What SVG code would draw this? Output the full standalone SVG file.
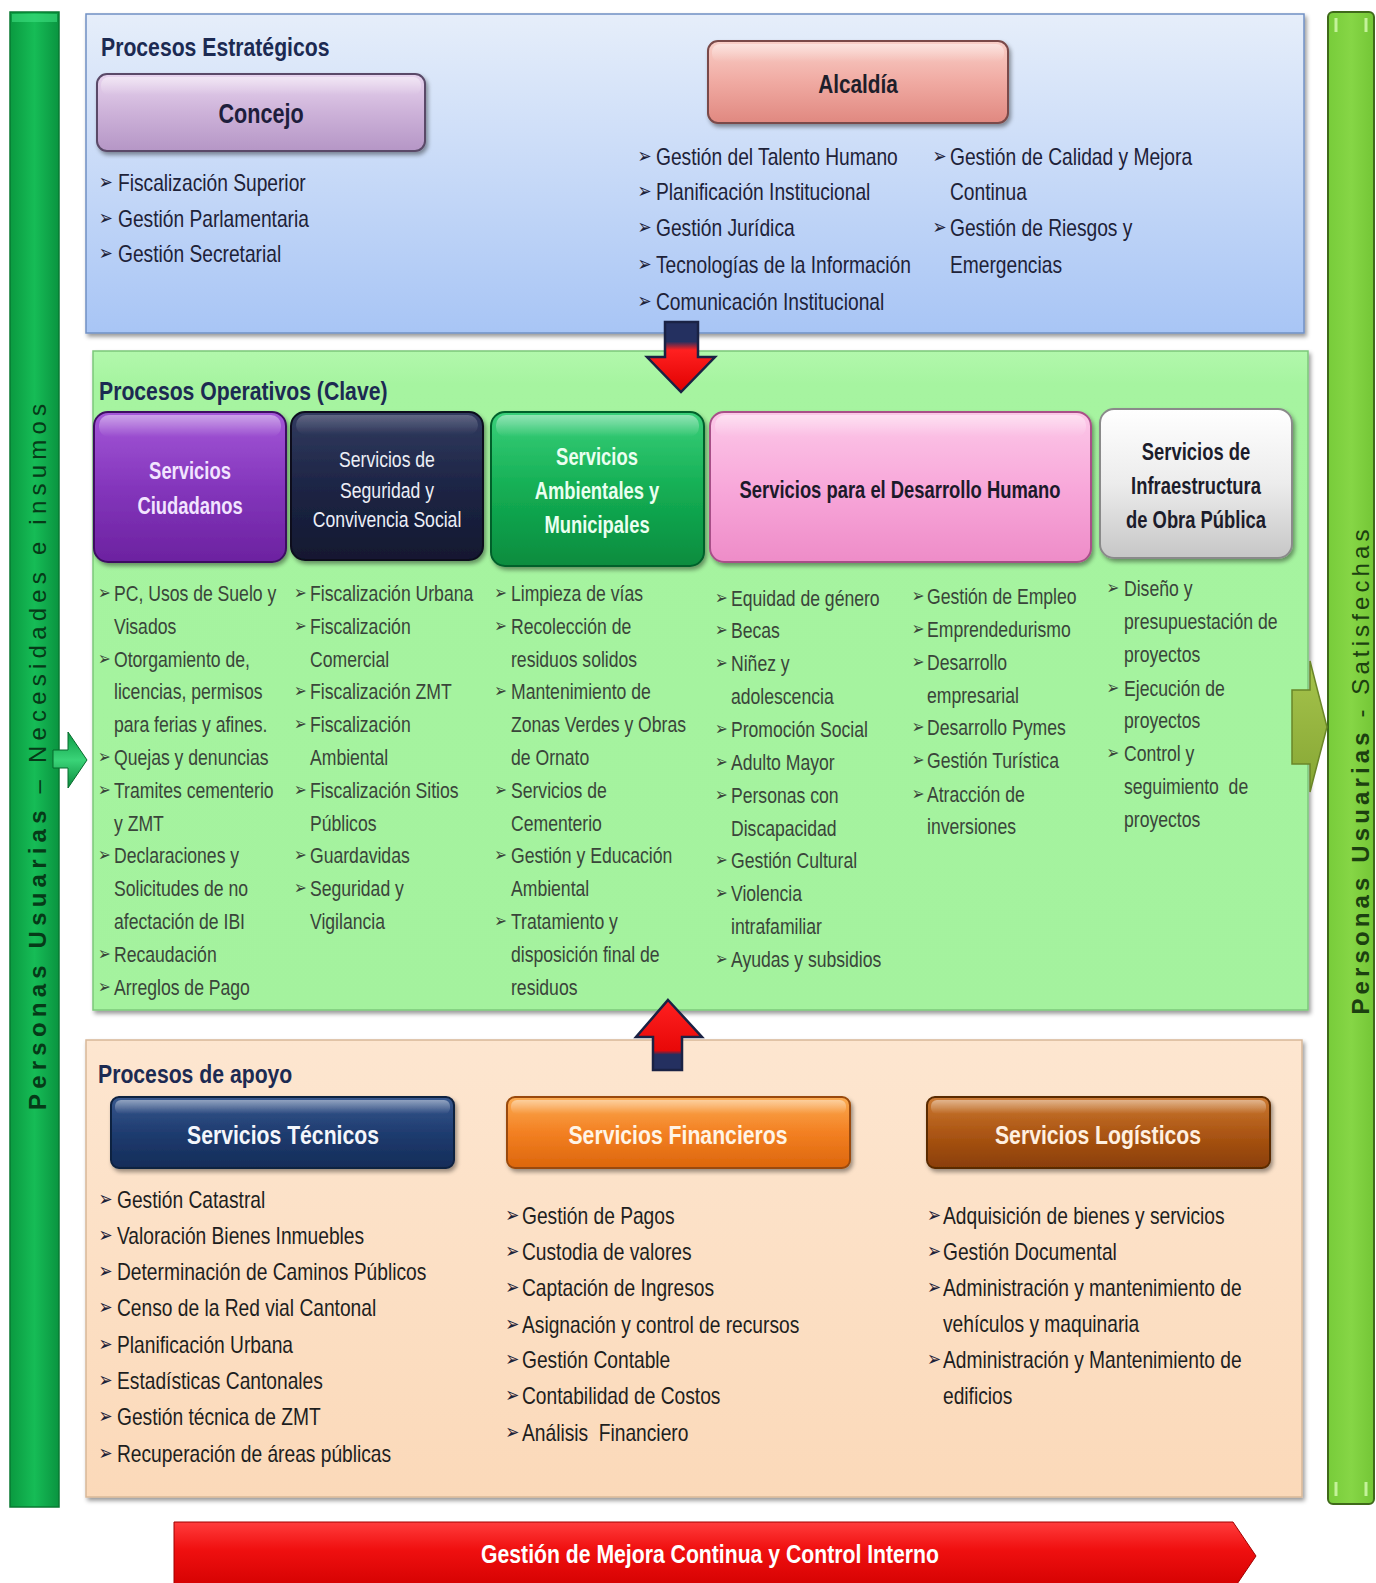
<svg xmlns="http://www.w3.org/2000/svg" width="1376" height="1583" viewBox="0 0 1376 1583">
<defs>
<filter id="sh" x="-5%" y="-5%" width="112%" height="115%"><feDropShadow dx="2" dy="3" stdDeviation="2" flood-color="#000" flood-opacity="0.4"/></filter>
<linearGradient id="gBlue" x1="0" y1="0" x2="0" y2="1"><stop offset="0" stop-color="#e6eefa"/><stop offset="1" stop-color="#a8c5f5"/></linearGradient>
<linearGradient id="gGreenP" x1="0" y1="0" x2="0" y2="1"><stop offset="0" stop-color="#b2f8ac"/><stop offset="0.05" stop-color="#a6f4a0"/><stop offset="1" stop-color="#a4f29e"/></linearGradient>
<linearGradient id="gPeach" x1="0" y1="0" x2="0" y2="1"><stop offset="0" stop-color="#fde6d0"/><stop offset="1" stop-color="#fbd9b9"/></linearGradient>
<linearGradient id="gConcejo" x1="0" y1="0" x2="0" y2="1"><stop offset="0" stop-color="#e8d4ee"/><stop offset="0.5" stop-color="#cdb2d9"/><stop offset="1" stop-color="#b596c6"/></linearGradient>
<linearGradient id="gAlc" x1="0" y1="0" x2="0" y2="1"><stop offset="0" stop-color="#f9cfc8"/><stop offset="0.5" stop-color="#f0aaa2"/><stop offset="1" stop-color="#e08880"/></linearGradient>
<linearGradient id="gPurple" x1="0" y1="0" x2="0" y2="1"><stop offset="0" stop-color="#a458d8"/><stop offset="0.5" stop-color="#8436bc"/><stop offset="1" stop-color="#6c22a0"/></linearGradient>
<linearGradient id="gNavy" x1="0" y1="0" x2="0" y2="1"><stop offset="0" stop-color="#323b60"/><stop offset="0.5" stop-color="#1d2545"/><stop offset="1" stop-color="#121830"/></linearGradient>
<linearGradient id="gGreenB" x1="0" y1="0" x2="0" y2="1"><stop offset="0" stop-color="#3ad07a"/><stop offset="0.5" stop-color="#14ae54"/><stop offset="1" stop-color="#088c3e"/></linearGradient>
<linearGradient id="gPink" x1="0" y1="0" x2="0" y2="1"><stop offset="0" stop-color="#fcc8e8"/><stop offset="0.5" stop-color="#f8a8da"/><stop offset="1" stop-color="#ee8cc8"/></linearGradient>
<linearGradient id="gGray" x1="0" y1="0" x2="0" y2="1"><stop offset="0" stop-color="#ffffff"/><stop offset="0.5" stop-color="#ececec"/><stop offset="1" stop-color="#c6c6c6"/></linearGradient>
<linearGradient id="gTec" x1="0" y1="0" x2="0" y2="1"><stop offset="0" stop-color="#38588e"/><stop offset="0.5" stop-color="#1f3c70"/><stop offset="1" stop-color="#142c58"/></linearGradient>
<linearGradient id="gFin" x1="0" y1="0" x2="0" y2="1"><stop offset="0" stop-color="#fbab52"/><stop offset="0.5" stop-color="#f38022"/><stop offset="1" stop-color="#dc660c"/></linearGradient>
<linearGradient id="gLog" x1="0" y1="0" x2="0" y2="1"><stop offset="0" stop-color="#cc7a32"/><stop offset="0.5" stop-color="#ac5614"/><stop offset="1" stop-color="#8a3e06"/></linearGradient>
<linearGradient id="gBanner" x1="0" y1="0" x2="0" y2="1"><stop offset="0" stop-color="#ff3c3c"/><stop offset="0.4" stop-color="#f01010"/><stop offset="1" stop-color="#d20000"/></linearGradient>
<linearGradient id="gLeft" x1="0" y1="0" x2="1" y2="0"><stop offset="0" stop-color="#0a9a40"/><stop offset="0.5" stop-color="#16bc56"/><stop offset="1" stop-color="#0a9440"/></linearGradient>
<linearGradient id="gRight" x1="0" y1="0" x2="1" y2="0"><stop offset="0" stop-color="#78cc3a"/><stop offset="0.5" stop-color="#86d646"/><stop offset="1" stop-color="#74c636"/></linearGradient>
<linearGradient id="gDown" x1="0" y1="0" x2="0" y2="1"><stop offset="0" stop-color="#243060"/><stop offset="0.28" stop-color="#243060"/><stop offset="0.4" stop-color="#ff2020"/><stop offset="1" stop-color="#e00000"/></linearGradient>
<linearGradient id="gUp" x1="0" y1="0" x2="0" y2="1"><stop offset="0" stop-color="#ff2020"/><stop offset="0.72" stop-color="#e80808"/><stop offset="0.78" stop-color="#243060"/><stop offset="1" stop-color="#243060"/></linearGradient>
<linearGradient id="gGArrow" x1="0" y1="0" x2="0" y2="1"><stop offset="0" stop-color="#0c9a44"/><stop offset="0.5" stop-color="#3ad478"/><stop offset="1" stop-color="#0a8a3c"/></linearGradient>
<linearGradient id="gOlive" x1="0" y1="0" x2="0" y2="1"><stop offset="0" stop-color="#a6c44c"/><stop offset="1" stop-color="#86a634"/></linearGradient>
<linearGradient id="gloss" x1="0" y1="0" x2="0" y2="1"><stop offset="0" stop-color="#fff" stop-opacity="0.45"/><stop offset="1" stop-color="#fff" stop-opacity="0"/></linearGradient>
<style>
text{font-family:'Liberation Sans',Arial,sans-serif}
.h{font-weight:bold;font-size:26.5px;fill:#1c2a52}
.bx{font-weight:bold;font-size:23px;text-anchor:middle}
.bt{font-size:24px;fill:#1e2238}
.bg{font-size:22px;fill:#3a453a}
.ba{font-size:24px;fill:#1e1e1e}
.ar{font-family:'DejaVu Sans',sans-serif;font-size:21px;fill:#1e2238}
.ag{font-family:'DejaVu Sans',sans-serif;font-size:19px;fill:#3a453a}
.panel{filter:url(#sh)}
</style>
</defs>

<rect width="1376" height="1583" fill="#ffffff"/>

<!-- Side bars -->
<g id="bar-left">
<rect x="10" y="12" width="49" height="1495" fill="url(#gLeft)" stroke="#087a32" stroke-width="1.5"/>
<rect x="12" y="14" width="45" height="8" fill="#3ee080" opacity="0.6"/>
<text transform="translate(46,757) rotate(-90)" text-anchor="middle" textLength="706" lengthAdjust="spacing" style="font-size:24px;fill:#063a18"><tspan font-weight="bold">Personas Usuarias</tspan> – Necesidades e insumos</text>
</g>
<g id="bar-right">
<rect x="1328" y="12" width="46" height="1492" rx="5" fill="url(#gRight)" stroke="#3f6a1a" stroke-width="2"/>
<line x1="1336" y1="18" x2="1336" y2="32" stroke="#c4f29a" stroke-width="3"/>
<line x1="1366" y1="18" x2="1366" y2="32" stroke="#c4f29a" stroke-width="3"/>
<line x1="1336" y1="1482" x2="1336" y2="1496" stroke="#c4f29a" stroke-width="3"/>
<line x1="1366" y1="1482" x2="1366" y2="1496" stroke="#c4f29a" stroke-width="3"/>
<text transform="translate(1369,772) rotate(-90)" text-anchor="middle" textLength="485" lengthAdjust="spacing" style="font-size:24px;fill:#1c4010"><tspan font-weight="bold">Personas Usuarias</tspan> - Satisfechas</text>
</g>

<!-- Strategic panel -->
<g id="panel-estrategicos">
<rect class="panel" x="86" y="14" width="1218" height="319" fill="url(#gBlue)" stroke="#7090c4" stroke-width="1.5"/>
<g transform="translate(101,0) scale(0.8,1)"><text class="h" x="0" y="56">Procesos Estratégicos</text></g>
</g>
<g id="node-concejo">
<rect class="panel" x="97" y="74" width="328" height="77" rx="10" fill="url(#gConcejo)" stroke="#5a4a68" stroke-width="2"/>
<rect x="101" y="77" width="320" height="18" rx="8" fill="url(#gloss)"/>
<g transform="translate(261,0) scale(0.8,1)"><text class="bx" x="0" y="123" style="font-size:27px;fill:#1e1e3c">Concejo</text></g>
<g transform="translate(118,0) scale(0.8,1)">
<text class="ar" x="-24" y="189">➢</text><text class="bt" x="0" y="191">Fiscalización Superior</text>
<text class="ar" x="-24" y="225">➢</text><text class="bt" x="0" y="227">Gestión Parlamentaria</text>
<text class="ar" x="-24" y="260">➢</text><text class="bt" x="0" y="262">Gestión Secretarial</text>
</g>
</g>
<g id="node-alcaldia">
<rect class="panel" x="708" y="41" width="300" height="82" rx="10" fill="url(#gAlc)" stroke="#7a4a48" stroke-width="2"/>
<rect x="712" y="44" width="292" height="18" rx="8" fill="url(#gloss)"/>
<g transform="translate(858,0) scale(0.8,1)"><text class="bx" x="0" y="93" style="font-size:26px;fill:#1e1e2a">Alcaldía</text></g>
<g transform="translate(656,0) scale(0.8,1)">
<text class="ar" x="-23" y="163">➢</text><text class="bt" x="0" y="165">Gestión del Talento Humano</text>
<text class="ar" x="-23" y="198">➢</text><text class="bt" x="0" y="200">Planificación Institucional</text>
<text class="ar" x="-23" y="234">➢</text><text class="bt" x="0" y="236">Gestión Jurídica</text>
<text class="ar" x="-23" y="271">➢</text><text class="bt" x="0" y="273">Tecnologías de la Información</text>
<text class="ar" x="-23" y="308">➢</text><text class="bt" x="0" y="310">Comunicación Institucional</text>
</g>
<g transform="translate(950,0) scale(0.8,1)">
<text class="ar" x="-22" y="163">➢</text><text class="bt" x="0" y="165">Gestión de Calidad y Mejora</text>
<text class="bt" x="0" y="200">Continua</text>
<text class="ar" x="-22" y="234">➢</text><text class="bt" x="0" y="236">Gestión de Riesgos y</text>
<text class="bt" x="0" y="273">Emergencias</text>
</g>
</g>

<!-- Operative panel -->
<g id="panel-operativos">
<rect class="panel" x="93" y="351" width="1215" height="659" fill="url(#gGreenP)" stroke="#7cc87a" stroke-width="1.5"/>
<g transform="translate(99,0) scale(0.8,1)"><text class="h" x="0" y="400">Procesos Operativos (Clave)</text></g>
</g>
<g id="node-ciudadanos">
<rect class="panel" x="94" y="412" width="192" height="150" rx="14" fill="url(#gPurple)" stroke="#3c1062" stroke-width="2"/>
<rect x="99" y="415" width="182" height="22" rx="10" fill="url(#gloss)"/>
<g transform="translate(190,0) scale(0.8,1)">
<text class="bx" x="0" y="479" style="fill:#f2e4ff">Servicios</text>
<text class="bx" x="0" y="514" style="fill:#f2e4ff">Ciudadanos</text>
</g>
<g transform="translate(114,0) scale(0.8,1)">
<text class="ag" x="-20" y="599">➢</text><text class="bg" x="0" y="601">PC, Usos de Suelo y</text>
<text class="bg" x="0" y="634">Visados</text>
<text class="ag" x="-20" y="665">➢</text><text class="bg" x="0" y="667">Otorgamiento de,</text>
<text class="bg" x="0" y="699">licencias, permisos</text>
<text class="bg" x="0" y="732">para ferias y afines.</text>
<text class="ag" x="-20" y="763">➢</text><text class="bg" x="0" y="765">Quejas y denuncias</text>
<text class="ag" x="-20" y="796">➢</text><text class="bg" x="0" y="798">Tramites cementerio</text>
<text class="bg" x="0" y="831">y ZMT</text>
<text class="ag" x="-20" y="861">➢</text><text class="bg" x="0" y="863">Declaraciones y</text>
<text class="bg" x="0" y="896">Solicitudes de no</text>
<text class="bg" x="0" y="929">afectación de IBI</text>
<text class="ag" x="-20" y="960">➢</text><text class="bg" x="0" y="962">Recaudación</text>
<text class="ag" x="-20" y="993">➢</text><text class="bg" x="0" y="995">Arreglos de Pago</text>
</g>
</g>
<g id="node-seguridad">
<rect class="panel" x="291" y="412" width="192" height="148" rx="14" fill="url(#gNavy)" stroke="#0a0e1e" stroke-width="2"/>
<rect x="296" y="415" width="182" height="20" rx="10" fill="url(#gloss)" opacity="0.5"/>
<g transform="translate(387,0) scale(0.8,1)">
<text class="bx" x="0" y="467" style="font-weight:normal;font-size:22px;fill:#eceef6">Servicios de</text>
<text class="bx" x="0" y="498" style="font-weight:normal;font-size:22px;fill:#eceef6">Seguridad y</text>
<text class="bx" x="0" y="527" style="font-weight:normal;font-size:22px;fill:#eceef6">Convivencia Social</text>
</g>
<g transform="translate(310,0) scale(0.8,1)">
<text class="ag" x="-20" y="599">➢</text><text class="bg" x="0" y="601">Fiscalización Urbana</text>
<text class="ag" x="-20" y="632">➢</text><text class="bg" x="0" y="634">Fiscalización</text>
<text class="bg" x="0" y="667">Comercial</text>
<text class="ag" x="-20" y="697">➢</text><text class="bg" x="0" y="699">Fiscalización ZMT</text>
<text class="ag" x="-20" y="730">➢</text><text class="bg" x="0" y="732">Fiscalización</text>
<text class="bg" x="0" y="765">Ambiental</text>
<text class="ag" x="-20" y="796">➢</text><text class="bg" x="0" y="798">Fiscalización Sitios</text>
<text class="bg" x="0" y="831">Públicos</text>
<text class="ag" x="-20" y="861">➢</text><text class="bg" x="0" y="863">Guardavidas</text>
<text class="ag" x="-20" y="894">➢</text><text class="bg" x="0" y="896">Seguridad y</text>
<text class="bg" x="0" y="929">Vigilancia</text>
</g>
</g>
<g id="node-ambientales">
<rect class="panel" x="491" y="412" width="213" height="154" rx="14" fill="url(#gGreenB)" stroke="#06602c" stroke-width="2"/>
<rect x="496" y="415" width="203" height="22" rx="10" fill="url(#gloss)"/>
<g transform="translate(597,0) scale(0.8,1)">
<text class="bx" x="0" y="465" style="fill:#eafff0">Servicios</text>
<text class="bx" x="0" y="499" style="fill:#eafff0">Ambientales y</text>
<text class="bx" x="0" y="533" style="fill:#eafff0">Municipales</text>
</g>
<g transform="translate(511,0) scale(0.8,1)">
<text class="ag" x="-21" y="599">➢</text><text class="bg" x="0" y="601">Limpieza de vías</text>
<text class="ag" x="-21" y="632">➢</text><text class="bg" x="0" y="634">Recolección de</text>
<text class="bg" x="0" y="667">residuos solidos</text>
<text class="ag" x="-21" y="697">➢</text><text class="bg" x="0" y="699">Mantenimiento de</text>
<text class="bg" x="0" y="732">Zonas Verdes y Obras</text>
<text class="bg" x="0" y="765">de Ornato</text>
<text class="ag" x="-21" y="796">➢</text><text class="bg" x="0" y="798">Servicios de</text>
<text class="bg" x="0" y="831">Cementerio</text>
<text class="ag" x="-21" y="861">➢</text><text class="bg" x="0" y="863">Gestión y Educación</text>
<text class="bg" x="0" y="896">Ambiental</text>
<text class="ag" x="-21" y="927">➢</text><text class="bg" x="0" y="929">Tratamiento y</text>
<text class="bg" x="0" y="962">disposición final de</text>
<text class="bg" x="0" y="995">residuos</text>
</g>
</g>
<g id="node-desarrollo">
<rect class="panel" x="710" y="412" width="381" height="150" rx="14" fill="url(#gPink)" stroke="#a85088" stroke-width="2"/>
<rect x="715" y="415" width="371" height="22" rx="10" fill="url(#gloss)"/>
<g transform="translate(900,0) scale(0.8,1)"><text class="bx" x="0" y="498" style="fill:#1c1a2a">Servicios para el Desarrollo Humano</text></g>
<g transform="translate(731,0) scale(0.8,1)">
<text class="ag" x="-20" y="604">➢</text><text class="bg" x="0" y="606">Equidad de género</text>
<text class="ag" x="-20" y="636">➢</text><text class="bg" x="0" y="638">Becas</text>
<text class="ag" x="-20" y="669">➢</text><text class="bg" x="0" y="671">Niñez y</text>
<text class="bg" x="0" y="704">adolescencia</text>
<text class="ag" x="-20" y="735">➢</text><text class="bg" x="0" y="737">Promoción Social</text>
<text class="ag" x="-20" y="768">➢</text><text class="bg" x="0" y="770">Adulto Mayor</text>
<text class="ag" x="-20" y="801">➢</text><text class="bg" x="0" y="803">Personas con</text>
<text class="bg" x="0" y="836">Discapacidad</text>
<text class="ag" x="-20" y="866">➢</text><text class="bg" x="0" y="868">Gestión Cultural</text>
<text class="ag" x="-20" y="899">➢</text><text class="bg" x="0" y="901">Violencia</text>
<text class="bg" x="0" y="934">intrafamiliar</text>
<text class="ag" x="-20" y="965">➢</text><text class="bg" x="0" y="967">Ayudas y subsidios</text>
</g>
<g transform="translate(927,0) scale(0.8,1)">
<text class="ag" x="-19" y="602">➢</text><text class="bg" x="0" y="604">Gestión de Empleo</text>
<text class="ag" x="-19" y="635">➢</text><text class="bg" x="0" y="637">Emprendedurismo</text>
<text class="ag" x="-19" y="668">➢</text><text class="bg" x="0" y="670">Desarrollo</text>
<text class="bg" x="0" y="703">empresarial</text>
<text class="ag" x="-19" y="733">➢</text><text class="bg" x="0" y="735">Desarrollo Pymes</text>
<text class="ag" x="-19" y="766">➢</text><text class="bg" x="0" y="768">Gestión Turística</text>
<text class="ag" x="-19" y="800">➢</text><text class="bg" x="0" y="802">Atracción de</text>
<text class="bg" x="0" y="834">inversiones</text>
</g>
</g>
<g id="node-infraestructura">
<rect class="panel" x="1100" y="409" width="192" height="149" rx="14" fill="url(#gGray)" stroke="#8a8a8a" stroke-width="2"/>
<g transform="translate(1196,0) scale(0.8,1)">
<text class="bx" x="0" y="460" style="fill:#1c1c2a">Servicios de</text>
<text class="bx" x="0" y="494" style="fill:#1c1c2a">Infraestructura</text>
<text class="bx" x="0" y="528" style="fill:#1c1c2a">de Obra Pública</text>
</g>
<g transform="translate(1124,0) scale(0.8,1)">
<text class="ag" x="-22" y="594">➢</text><text class="bg" x="0" y="596">Diseño y</text>
<text class="bg" x="0" y="629">presupuestación de</text>
<text class="bg" x="0" y="662">proyectos</text>
<text class="ag" x="-22" y="694">➢</text><text class="bg" x="0" y="696">Ejecución de</text>
<text class="bg" x="0" y="728">proyectos</text>
<text class="ag" x="-22" y="759">➢</text><text class="bg" x="0" y="761">Control y</text>
<text class="bg" x="0" y="794" xml:space="preserve">seguimiento  de</text>
<text class="bg" x="0" y="827">proyectos</text>
</g>
</g>

<!-- Support panel -->
<g id="panel-apoyo">
<rect class="panel" x="86" y="1040" width="1216" height="457" fill="url(#gPeach)" stroke="#d8b898" stroke-width="1.5"/>
<g transform="translate(98,0) scale(0.8,1)"><text class="h" x="0" y="1083">Procesos de apoyo</text></g>
</g>
<g id="node-tecnicos">
<rect class="panel" x="111" y="1097" width="343" height="71" rx="8" fill="url(#gTec)" stroke="#0e2040" stroke-width="2"/>
<rect x="115" y="1100" width="335" height="14" rx="6" fill="url(#gloss)"/>
<g transform="translate(283,0) scale(0.8,1)"><text class="bx" x="0" y="1144" style="font-size:26.5px;fill:#f4f6fb">Servicios Técnicos</text></g>
<g transform="translate(117,0) scale(0.8,1)">
<text class="ar" x="-23" y="1206">➢</text><text class="ba" x="0" y="1208">Gestión Catastral</text>
<text class="ar" x="-23" y="1242">➢</text><text class="ba" x="0" y="1244">Valoración Bienes Inmuebles</text>
<text class="ar" x="-23" y="1278">➢</text><text class="ba" x="0" y="1280">Determinación de Caminos Públicos</text>
<text class="ar" x="-23" y="1314">➢</text><text class="ba" x="0" y="1316">Censo de la Red vial Cantonal</text>
<text class="ar" x="-23" y="1351">➢</text><text class="ba" x="0" y="1353">Planificación Urbana</text>
<text class="ar" x="-23" y="1387">➢</text><text class="ba" x="0" y="1389">Estadísticas Cantonales</text>
<text class="ar" x="-23" y="1423">➢</text><text class="ba" x="0" y="1425">Gestión técnica de ZMT</text>
<text class="ar" x="-23" y="1460">➢</text><text class="ba" x="0" y="1462">Recuperación de áreas públicas</text>
</g>
</g>
<g id="node-financieros">
<rect class="panel" x="507" y="1097" width="343" height="71" rx="8" fill="url(#gFin)" stroke="#9a4a08" stroke-width="2"/>
<rect x="511" y="1100" width="335" height="14" rx="6" fill="url(#gloss)"/>
<g transform="translate(678,0) scale(0.8,1)"><text class="bx" x="0" y="1144" style="font-size:26.5px;fill:#fff4e6">Servicios Financieros</text></g>
<g transform="translate(522,0) scale(0.8,1)">
<text class="ar" x="-21" y="1222">➢</text><text class="ba" x="0" y="1224">Gestión de Pagos</text>
<text class="ar" x="-21" y="1258">➢</text><text class="ba" x="0" y="1260">Custodia de valores</text>
<text class="ar" x="-21" y="1294">➢</text><text class="ba" x="0" y="1296">Captación de Ingresos</text>
<text class="ar" x="-21" y="1331">➢</text><text class="ba" x="0" y="1333">Asignación y control de recursos</text>
<text class="ar" x="-21" y="1366">➢</text><text class="ba" x="0" y="1368">Gestión Contable</text>
<text class="ar" x="-21" y="1402">➢</text><text class="ba" x="0" y="1404">Contabilidad de Costos</text>
<text class="ar" x="-21" y="1439">➢</text><text class="ba" x="0" y="1441" xml:space="preserve">Análisis  Financiero</text>
</g>
</g>
<g id="node-logisticos">
<rect class="panel" x="927" y="1097" width="343" height="71" rx="8" fill="url(#gLog)" stroke="#5a2a04" stroke-width="2"/>
<rect x="931" y="1100" width="335" height="14" rx="6" fill="url(#gloss)"/>
<g transform="translate(1098,0) scale(0.8,1)"><text class="bx" x="0" y="1144" style="font-size:26.5px;fill:#fff0e0">Servicios Logísticos</text></g>
<g transform="translate(943,0) scale(0.8,1)">
<text class="ar" x="-20" y="1222">➢</text><text class="ba" x="0" y="1224">Adquisición de bienes y servicios</text>
<text class="ar" x="-20" y="1258">➢</text><text class="ba" x="0" y="1260">Gestión Documental</text>
<text class="ar" x="-20" y="1294">➢</text><text class="ba" x="0" y="1296">Administración y mantenimiento de</text>
<text class="ba" x="0" y="1332">vehículos y maquinaria</text>
<text class="ar" x="-20" y="1366">➢</text><text class="ba" x="0" y="1368">Administración y Mantenimiento de</text>
<text class="ba" x="0" y="1404">edificios</text>
</g>
</g>

<!-- Bottom banner -->
<g id="node-mejora">
<polygon points="174,1522 1233,1522 1256,1556 1233,1590 174,1590" fill="url(#gBanner)" stroke="#a00000" stroke-width="1"/>
<g transform="translate(710,0) scale(0.8,1)"><text class="bx" x="0" y="1563" style="font-size:26.5px;fill:#ffffff">Gestión de Mejora Continua y Control Interno</text></g>
</g>

<!-- Connectors -->
<g id="connectors">
<polygon points="665,322 698,322 698,357 715,357 681,392 647,357 665,357" fill="url(#gDown)" stroke="#1a2244" stroke-width="2.5" stroke-linejoin="miter"/>
<polygon points="668,1000 702,1037 682,1037 682,1070 653,1070 653,1037 636,1037" fill="url(#gUp)" stroke="#1a2244" stroke-width="2.5"/>
<polygon points="53,750 68,750 68,732 87,760 68,788 68,768 53,768" fill="url(#gGArrow)" stroke="#066a2c" stroke-width="1"/>
<polygon points="1292,690 1310,690 1310,661 1327,727 1310,792 1310,764 1292,764" fill="url(#gOlive)" stroke="#6a8628" stroke-width="1.5"/>
</g>
</svg>
